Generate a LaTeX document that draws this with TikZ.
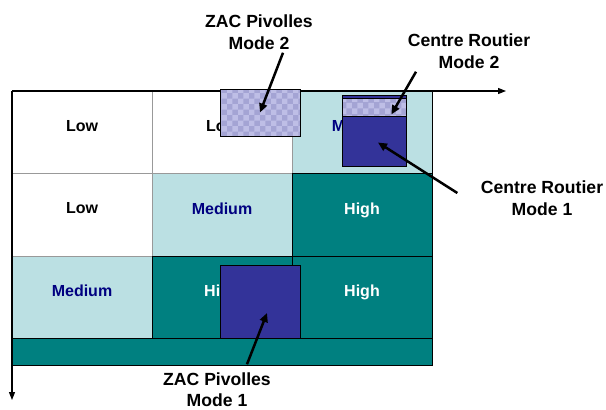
\documentclass[tikz,border=0pt]{standalone}
\usepackage{fontspec}
\setmainfont{Liberation Sans}
\usetikzlibrary{positioning, arrows.meta, patterns}
\definecolor{riskLight}{HTML}{BBE0E3}
\definecolor{riskHigh}{HTML}{008080}
\definecolor{riskNavy}{HTML}{000080}
\definecolor{modeBlue}{HTML}{333399}
\definecolor{modeHatch}{HTML}{A4A4D4}
\definecolor{modeHatchDot}{HTML}{BEBEE6}

\begin{document}
\begin{tikzpicture}[x=1pt, y=-1pt, node distance=0pt,
  font=\bfseries\fontsize{16}{18}\selectfont,
  cell/.style={draw=gray!80, line width=1pt, minimum width=140pt,
    minimum height=82.5pt, inner sep=0pt, outer sep=0pt, text depth=13pt},
  low/.style={cell, fill=white},
  medium/.style={cell, fill=riskLight, text=riskNavy},
  high/.style={cell, fill=riskHigh, draw=black, text=white},
  mode1/.style={draw=black, line width=0.8pt, fill=modeBlue, inner sep=0pt},
  mode2/.style={draw=black, line width=0.8pt, inner sep=0pt,
    preaction={fill=modeHatch}, pattern=checkerboard, pattern color=modeHatchDot},
  site/.style={align=center, font=\bfseries\fontsize{17.6}{21.5}\selectfont},
  pointer/.style={line width=2.5pt, -{Triangle[length=9pt, width=8pt]}},
  axis/.style={line width=1.2pt, -{Triangle[length=8pt, width=6pt]}}]

\useasboundingbox[fill=white] (0,0) rectangle (606,410);

% risk grid
\node[low] (c11) at (82,132.25) {Low};
\node[low, right=of c11] (c12) {Low};
\node[medium, right=of c12] (c13) {Medium};
\node[low, below=of c11] (c21) {Low};
\node[medium, right=of c21] (c22) {Medium};
\node[medium, below=of c11.south, yshift=-82.5pt] (c31) {Medium};
\node[high, right=of c22] (c23) {High};
\node[high, right=of c31] (c32) {High};
\node[high, right=of c32] (c33) {High};
\node[high, minimum width=420pt, minimum height=27pt, anchor=north west]
  (bar) at (c31.south west) {};
\draw[line width=1pt] (c11.north west) rectangle (bar.south east);

\draw[axis] (c11.north west) -- (506,91) coordinate (xend);
\draw[axis] (c11.north west) -- (12,400) coordinate (yend);

% sites
\node[mode2, minimum width=80pt, minimum height=47pt] (zp2) at (260,112.5) {};
\node[mode1, minimum width=64pt, minimum height=71pt] (cr1) at (374,130.5) {};
\node[mode2, minimum width=64pt, minimum height=18pt] (cr2) at (374,107) {};
\node[mode1, minimum width=80pt, minimum height=73pt] (zp1) at (260,301.5) {};

\node[site] (zp2lbl) at (259,32) {ZAC Pivolles\\Mode 2};
\node[site] (cr2lbl) at (469,51) {Centre Routier\\Mode 2};
\node[site] (cr1lbl) at (542,198) {Centre Routier\\Mode 1};
\node[site] (zp1lbl) at (217,389.5) {ZAC Pivolles\\Mode 1};

\draw[pointer] ([xshift=24pt]zp2lbl.south) -- (zp2.center);
\draw[pointer] ([xshift=-53pt]cr2lbl.south) -- ([xshift=-15pt, yshift=2pt]cr2.south east);
\draw[pointer] ([xshift=-20pt, yshift=5pt]cr1lbl.west) -- ([xshift=4pt, yshift=-12pt]cr1.center);
\draw[pointer] ([xshift=30pt, yshift=4.5pt]zp1lbl.north) -- ([xshift=7pt, yshift=-11.5pt]zp1.center);

\end{tikzpicture}
\end{document}
